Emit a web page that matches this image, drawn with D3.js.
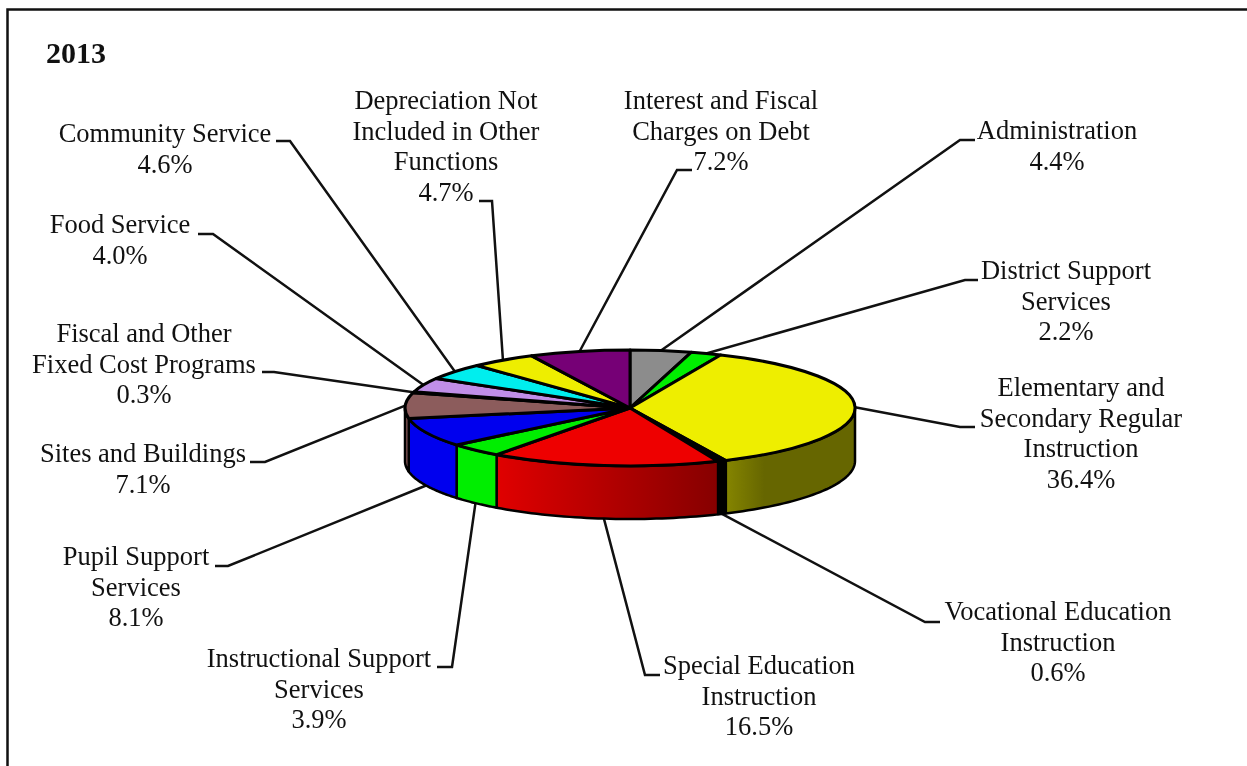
<!DOCTYPE html>
<html>
<head>
<meta charset="utf-8">
<script src="https://cdn.jsdelivr.net/npm/d3@7"></script>
<style>
  html, body { margin: 0; padding: 0; background: #fff; overflow: hidden; }
  svg { filter: blur(0.4px); }
  text { font-family: "Liberation Serif", serif; fill: #111; }
</style>
</head>
<body>
<svg id="chart" width="1247" height="766"></svg>
<script>
// values in clockwise order starting at 12 o'clock
const categories = ['Administration', 'District Support Services', 'Elementary and Secondary Regular Instruction',
    'Vocational Education Instruction', 'Special Education Instruction', 'Instructional Support Services',
    'Pupil Support Services', 'Sites and Buildings', 'Fiscal and Other Fixed Cost Programs', 'Food Service',
    'Community Service', 'Depreciation Not Included in Other Functions', 'Interest and Fiscal Charges on Debt'];
const percents = [4.4, 2.2, 36.4, 0.6, 16.5, 3.9, 8.1, 7.1, 0.3, 4.0, 4.6, 4.7, 7.2];
const labelLines = [
    ['Administration'],
    ['District Support', 'Services'],
    ['Elementary and', 'Secondary Regular', 'Instruction'],
    ['Vocational Education', 'Instruction'],
    ['Special Education', 'Instruction'],
    ['Instructional Support', 'Services'],
    ['Pupil Support', 'Services'],
    ['Sites and Buildings'],
    ['Fiscal and Other', 'Fixed Cost Programs'],
    ['Food Service'],
    ['Community Service'],
    ['Depreciation Not', 'Included in Other', 'Functions'],
    ['Interest and Fiscal', 'Charges on Debt']
];
const title = '2013';

const sliceColours = ['#8c8c8c', '#00ee00', '#eeee00', '#000000', '#ee0000', '#00ee00', '#0000ee',
    '#8c5c5c', '#5a3a3a', '#c08ee8', '#00eeee', '#eeee00', '#760076'];
const wallFills = {2: 'url(#wallYellow)', 4: 'url(#wallRed)'};

// where each label sits and where its leader bends : [label x, first line y, elbow x, elbow y, tail x]
const labelLayout = [
    [1057, 130, 960, 140, 975],
    [1066, 270, 965, 280, 978],
    [1081, 387, 960, 427, 975],
    [1058, 611, 925, 622, 940],
    [759, 665, 645, 675, 660],
    [319, 658, 452, 667, 437],
    [136, 556, 228, 566, 215],
    [143, 453, 265, 462, 250],
    [144, 333, 274, 372, 262],
    [120, 224, 213, 234, 198],
    [165, 133, 290, 141, 276],
    [446, 100, 492, 201, 479],
    [721, 100, 677, 170, 692]
];

const lineGap = 30.6;
const cx = 630, cy = 408, rx = 225, ry = 58, depth = 53;

const svg = d3.select('#chart');

// unit circle -> squashed pie
const X = d3.scaleLinear().domain([-1, 1]).range([cx - rx, cx + rx]);
const Y = d3.scaleLinear().domain([-1, 1]).range([cy - ry, cy + ry]);

const rimX = a => X(Math.sin(a));
const rimY = a => Y(-Math.cos(a));

const arcs = d3.pie().sort(null).value(d => d)(percents);
const midAngle = d => (d.startAngle + d.endAngle) / 2;

//-------------------------------------------------------------------------------
const defs = svg.append('defs');

function AddGradient(id, x1, x2, stops) {
    const g = defs.append('linearGradient').attr('id', id)
        .attr('gradientUnits', 'userSpaceOnUse')
        .attr('x1', x1).attr('x2', x2).attr('y1', 0).attr('y2', 0);
    stops.forEach(s => g.append('stop').attr('offset', s[0]).attr('stop-color', s[1]));
}

AddGradient('wallYellow', rimX(arcs[2].endAngle), rimX(Math.PI / 2), [[0, '#858500'], [0.3, '#666600'], [1, '#666600']]);
AddGradient('wallRed', rimX(arcs[4].endAngle), rimX(arcs[4].startAngle), [[0, '#e00000'], [1, '#860000']]);

// frame
svg.append('rect').attr('x', 7.5).attr('y', 9.5).attr('width', 1300).attr('height', 800)
    .attr('fill', 'none').attr('stroke', '#111').attr('stroke-width', 2.5);

svg.append('text').attr('x', 46).attr('y', 63).attr('font-size', 30).attr('font-weight', 'bold').text(title);

//-------------------------------------------------------------------------------
// leaders go under the pie
function LeaderStart(d) {
    const a = midAngle(d);
    const front = a > Math.PI / 2 && a < 3 * Math.PI / 2;
    return [rimX(a), rimY(a) + (front ? depth : 0)];
}

svg.append('g').selectAll('path')
    .data(arcs)
    .join('path')
    .attr('fill', 'none').attr('stroke', '#111').attr('stroke-width', 2.5)
    .attr('d', (d, i) => {
        const l = labelLayout[i];
        return d3.line()([LeaderStart(d), [l[2], l[3]], [l[4], l[3]]]);
    });

//-------------------------------------------------------------------------------
// side wall : only the part of each slice that faces the viewer
function WallPath(d) {
    const a0 = Math.max(d.startAngle, Math.PI / 2), a1 = Math.min(d.endAngle, 3 * Math.PI / 2);
    if (a1 <= a0) return null;
    const steps = d3.range(0, 41).map(k => a0 + (a1 - a0) * k / 40);
    const top = steps.map(a => [rimX(a), rimY(a)]);
    const bottom = steps.slice().reverse().map(a => [rimX(a), rimY(a) + depth]);
    return d3.line()(top.concat(bottom)) + 'Z';
}

svg.append('g').selectAll('path')
    .data(arcs)
    .join('path')
    .attr('d', WallPath)
    .attr('fill', (d, i) => wallFills[i] || sliceColours[i])
    .attr('stroke', '#000').attr('stroke-width', 2.5).attr('stroke-linejoin', 'round');

// top face
svg.append('g')
    .attr('transform', `translate(${cx},${cy}) scale(${rx},${ry})`)
    .selectAll('path')
    .data(arcs)
    .join('path')
    .attr('d', d3.arc().innerRadius(0).outerRadius(1))
    .attr('fill', (d, i) => sliceColours[i])
    .attr('stroke', '#000').attr('stroke-width', 3).attr('stroke-linejoin', 'round')
    .attr('vector-effect', 'non-scaling-stroke');

//-------------------------------------------------------------------------------
const labels = svg.append('g').attr('font-size', 26.5).attr('text-anchor', 'middle');

arcs.forEach((d, i) => {
    const l = labelLayout[i];
    const rows = labelLines[i].concat(d3.format('.1f')(percents[i]) + '%');
    rows.forEach((row, r) => {
        labels.append('text')
            .attr('x', l[0])
            .attr('y', l[1] + r * lineGap + 9)
            .text(row);
    });
});
</script>
</body>
</html>
